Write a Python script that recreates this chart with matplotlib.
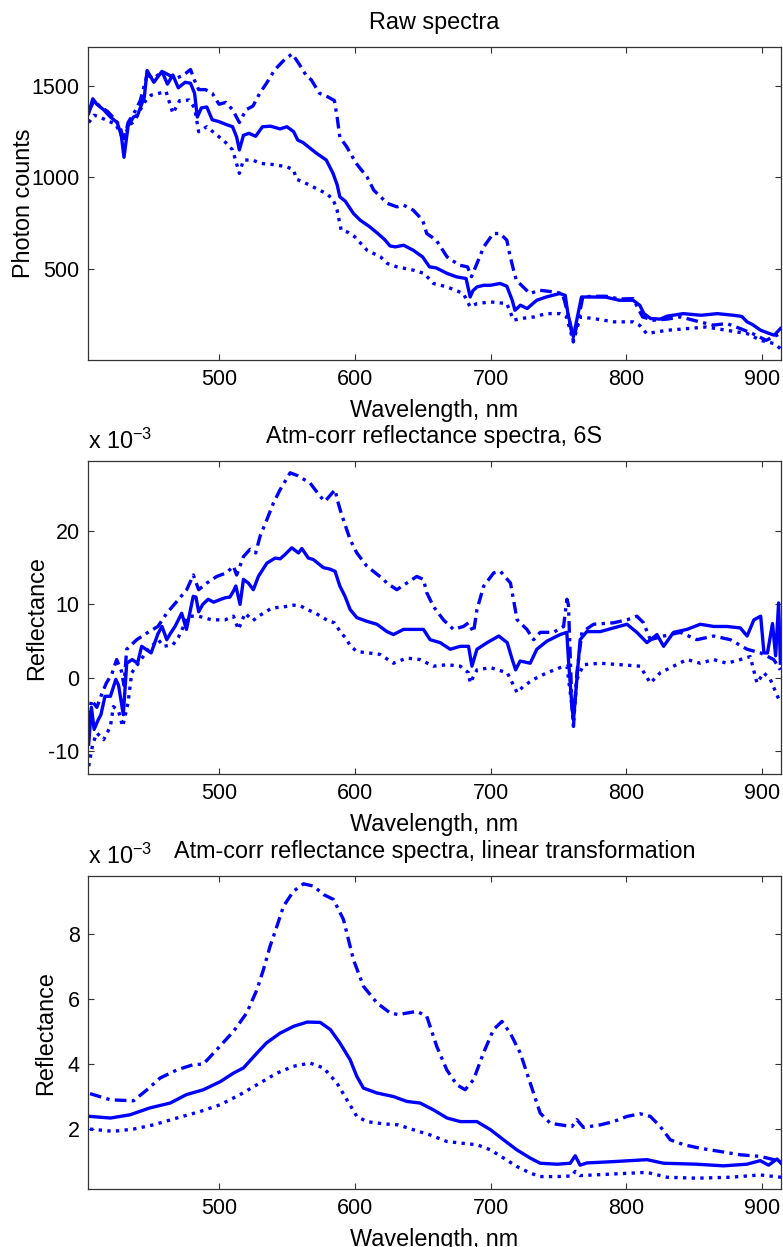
import matplotlib
matplotlib.use("Agg")
import matplotlib.pyplot as plt

plt.rcParams['font.family'] = ['Liberation Sans', 'DejaVu Sans']
plt.rcParams['mathtext.fontset'] = 'custom'
plt.rcParams['mathtext.rm'] = 'Liberation Sans'
plt.rcParams['mathtext.default'] = 'regular'
plt.rcParams['axes.unicode_minus'] = False

# ---- Raw spectra (photon counts) ----
raw_solid_wl = [404, 407, 410, 415, 420, 425, 428, 430, 433, 437, 440, 445, 447, 452, 458, 462, 466, 470, 475, 479,
                482, 484, 487, 491, 495, 500, 505, 510, 513, 515, 518, 522, 527, 532, 538, 545, 550, 555, 558, 562,
                567, 572, 579, 584, 587, 589, 593, 599, 604, 611, 617, 622, 626, 630, 636, 643, 650, 655, 660, 668,
                675, 682, 685, 687, 690, 695, 700, 707, 712, 716, 718, 722, 727, 734, 741, 751, 755, 757, 761, 764,
                767, 773, 785, 795, 805, 810, 813, 818, 825, 830, 842, 855, 867, 879, 885, 889, 893, 899, 904, 909, 913.5]
raw_solid = [1350, 1430, 1400, 1370, 1330, 1300, 1230, 1110, 1280, 1330, 1340, 1440, 1585, 1520, 1580, 1510, 1560, 1490, 1520, 1515,
             1460, 1330, 1380, 1385, 1315, 1305, 1290, 1277, 1220, 1150, 1230, 1241, 1225, 1277, 1280, 1265, 1277, 1250, 1204, 1190,
             1160, 1131, 1095, 1022, 960, 894, 870, 803, 766, 730, 693, 660, 625, 620, 629, 602, 565, 511, 505, 475,
             456, 447, 346, 380, 401, 410, 410, 420, 405, 328, 273, 301, 283, 328, 346, 365, 355, 255, 128, 237,
             346, 346, 345, 328, 328, 300, 255, 228, 225, 241, 255, 246, 255, 246, 240, 210, 195, 164, 150, 137, 173]

raw_dashdot_wl = [404, 408, 412, 418, 423, 427, 430, 433, 438, 442, 447, 452, 458, 463, 468, 474, 479, 482, 485, 490,
                  495, 500, 505, 510, 515, 520, 525, 530, 535, 541, 549, 554, 559, 564, 568, 574, 580, 585, 587, 589,
                  594, 601, 609, 614, 619, 624, 631, 636, 643, 650, 653, 660, 668, 677, 683, 686, 690, 695, 702, 707,
                  712, 714, 717, 719, 724, 729, 736, 746, 753, 757, 761, 765, 768, 775, 785, 795, 805, 812, 820, 830,
                  840, 854, 864, 874, 884, 893, 903, 913.5]
raw_dashdot = [1360, 1420, 1390, 1360, 1320, 1280, 1200, 1300, 1360, 1420, 1560, 1540, 1580, 1560, 1540, 1560, 1590, 1530, 1480, 1480,
               1460, 1400, 1410, 1370, 1300, 1370, 1390, 1460, 1515, 1588, 1650, 1675, 1620, 1560, 1533, 1460, 1441, 1420, 1330, 1220,
               1168, 1077, 1003, 930, 894, 858, 839, 848, 821, 766, 693, 657, 565, 520, 511, 457, 529, 620, 693, 693,
               657, 584, 492, 438, 401, 365, 383, 374, 365, 255, 109, 237, 346, 350, 350, 335, 337, 237, 219, 225,
               237, 210, 192, 201, 173, 146, 109, 146]

raw_dotted_wl = [404, 408, 412, 418, 424, 428, 430, 433, 438, 442, 446, 450, 456, 461, 466, 471, 478, 482, 485, 491,
                 500, 505, 510, 515, 518, 525, 530, 540, 550, 555, 557, 562, 569, 579, 584, 587, 590, 595, 600, 609,
                 619, 624, 631, 643, 651, 658, 668, 680, 685, 690, 700, 712, 717, 722, 732, 741, 751, 756, 761, 766,
                 776, 791, 805, 810, 815, 830, 845, 859, 874, 889, 899, 909, 913.5]
raw_dotted = [1300, 1340, 1330, 1310, 1290, 1230, 1200, 1280, 1310, 1370, 1420, 1450, 1460, 1470, 1350, 1420, 1423, 1380, 1250, 1277,
              1222, 1190, 1150, 1022, 1095, 1095, 1077, 1070, 1058, 1040, 990, 975, 949, 912, 880, 820, 711, 700, 675, 602,
              565, 529, 511, 493, 475, 420, 401, 365, 292, 310, 319, 310, 219, 228, 237, 255, 255, 237, 100, 237,
              228, 210, 210, 190, 146, 164, 173, 182, 164, 146, 109, 91, 64]

# ---- Atm-corr reflectance, 6S (x 1e-3) ----
sixs_solid_wl = [404, 406, 408, 411, 413, 416, 420, 424, 426, 429.5, 432, 436, 440, 443, 450, 455, 458, 461.5, 464, 467.6,
                 472.5, 476, 481, 483, 485, 488, 492, 496, 500, 504.5, 508, 510.6, 512.4, 515.5, 518, 521.6, 525.3, 529, 535.2, 541.3,
                 545, 548.7, 553.6, 558.5, 561, 565.8, 569.5, 576.9, 581.7, 585.5, 589, 592.8, 596.6, 601.5, 608.9, 616.3, 623.7, 628.5,
                 635.9, 643, 650.6, 655.5, 662.9, 670.3, 677.7, 683.8, 686.3, 690, 697.5, 706.1, 712.3, 716, 718.5, 721.8, 729.2, 734.1,
                 741.5, 751.3, 756.2, 757.4, 760, 761.1, 763.6, 766, 770.9, 780.8, 790.6, 800.5, 807.8, 815.2, 822.6, 827.5, 834.8,
                 844.7, 854.5, 864.4, 874.2, 884, 889, 894, 899, 901.4, 904, 907.7, 910, 912.2, 913.5]
sixs_solid = [-9, -4, -7, -5.7, -5, -2.5, -2.5, -0.2, -1, -5, 2, 2.5, 2, 4.3, 3.4, 6, 7, 5.2, 6, 7,
              8.8, 6.6, 11.1, 11, 9, 10, 10.7, 10.3, 10.6, 10.9, 11, 11.8, 12.5, 10, 13.4, 12.9, 12, 13.8, 15.6, 16.3,
              16.2, 16.8, 17.7, 17, 17.6, 16.3, 16.1, 15, 14.8, 14.5, 12.5, 11.1, 9.3, 8.2, 7.7, 7.3, 6.3, 5.9,
              6.6, 6.6, 6.6, 5.2, 4.8, 3.9, 4.3, 4.3, 1.6, 3.9, 4.8, 5.7, 4.8, 2.5, 1.1, 2.3, 2.0, 3.9,
              5.0, 5.9, 6.2, 2.5, -3.9, -5.7, -0.2, 5.2, 6.3, 6.3, 6.8, 7.3, 6.2, 4.8, 5.9, 4.3, 6.2,
              6.6, 7.3, 7.0, 7.0, 6.8, 5.7, 7.9, 8.4, 3.4, 3.4, 7.4, 3.0, 10.2, 2.0]

sixs_dashdot_wl = [404, 406, 410, 414, 417, 421, 424.6, 428, 430, 432, 439.4, 446.8, 455, 461.5, 468.9, 476.2, 481.1, 485, 491, 498.3,
                   505.6, 510.6, 513, 518, 522.9, 527, 530.3, 535.2, 540.1, 545, 552.4, 558, 567.1, 574.5, 578, 585.5, 587, 590, 596.6, 601.5,
                   608.9, 621.2, 623.6, 631, 638.3, 645.7, 650.6, 653, 658, 665.3, 672.7, 680, 683.8, 687.5, 690, 695, 702.4, 707.3, 714.7, 719.6,
                   726.8, 731.7, 736.6, 746.4, 753.8, 756.3, 757.4, 760, 761.1, 763.6, 767.3, 775.9, 790.6, 800.5, 807.8, 812.7, 817.7, 827.5,
                   839.8, 852, 864.4, 876.7, 889, 899, 908.6, 913.5]
sixs_dashdot = [-6, -3, -4, -2, -0.7, 0.5, 2.5, 1, -1, 3.9, 5.2, 6.1, 7, 8.8, 10.4, 12, 14, 12, 12.9, 13.8,
                14.3, 15.2, 14, 16.5, 17.5, 17, 19.3, 21.5, 23.8, 25.6, 27.9, 27.5, 26.5, 24.7, 24, 25.6, 24.3, 22.4, 18.8, 17,
                15.2, 13.4, 12.9, 12, 12.9, 13.8, 13.4, 11.6, 9.7, 7.9, 6.6, 7, 7.5, 6.2, 9.3, 12.5, 14.3, 14.5, 12.9, 7.9,
                6.6, 5.2, 6.2, 6.2, 7, 10.7, 9.9, -3.9, -6.6, 0.7, 6.2, 7.3, 7.5, 7.9, 8.4, 7.5, 5.2, 5.7,
                6.2, 5.2, 5.7, 5.2, 3.9, 3.4, 2.5, 1.1]

sixs_dotted_wl = [404, 407, 410, 415, 420, 422.2, 426, 429, 433, 435.7, 440.6, 448, 455.3, 459, 466, 470, 477.4, 484.8, 494.7, 504.5,
                  510.6, 514.3, 519.2, 525, 530, 538.9, 548.7, 555, 560, 565, 570, 575, 580, 585, 590, 593, 597, 601.5, 610, 618.7,
                  628.5, 638.3, 648, 658, 668, 677.7, 683.8, 685, 690, 700, 712.3, 717.2, 719.6, 724.4, 731.7, 741.5, 751.3, 756.3, 760, 761.1,
                  763.6, 768.5, 780.8, 795.5, 810.2, 817.7, 825, 834.8, 844.7, 854.5, 864.4, 874.2, 884, 891.3, 896.3, 901.2, 906.1, 913.5]
sixs_dotted = [-12, -9, -7.5, -8.4, -6.6, -3.9, -4.5, -6.6, -3.4, 0.7, 2, 3.9, 5.2, 4.3, 4.5, 5.5, 8.4, 8.4, 7.9, 7.9,
               8.4, 6.6, 8.8, 7.8, 8.5, 9.5, 9.7, 9.9, 9.8, 9.3, 8.9, 8.4, 7.8, 7.5, 6.1, 5.5, 4.3, 3.6, 3.4, 3.2,
               2.0, 2.7, 2.5, 1.6, 1.8, 1.6, 0.7, -0.7, 1.1, 1.4, 0.7, -1.1, -2, -1.1, -0.2, 0.7, 1.4, 1.6, -3.9, -5.7,
               -0.2, 1.8, 2, 1.8, 1.6, -0.7, 0.7, 1.6, 2.5, 2, 2.5, 2, 2.5, 2.9, -0.7, 0.7, -0.2, -3.4]

# ---- Atm-corr reflectance, linear transformation (x 1e-3) ----
lin_solid_wl = [405, 420, 434.5, 449, 464, 476, 488.5, 501, 510.6, 518, 528, 535, 545, 555, 565, 574.5, 582, 589, 596.6, 601.5,
                606.4, 616.3, 628.5, 638.4, 648.2, 658, 668, 677.7, 690, 700, 709.6, 719.4, 729.2, 736.6, 749, 758.7, 762.4, 766, 771,
                790.6, 815.2, 827.5, 852, 871.6, 888.8, 898.7, 904.8, 911, 914]
lin_solid = [2.39, 2.34, 2.44, 2.65, 2.80, 3.06, 3.21, 3.46, 3.72, 3.88, 4.34, 4.65, 4.95, 5.16, 5.29, 5.28, 5.06, 4.65, 4.13, 3.62,
             3.26, 3.11, 3.0, 2.85, 2.8, 2.59, 2.34, 2.23, 2.23, 1.98, 1.67, 1.36, 1.11, 0.95, 0.92, 0.95, 1.18, 0.89, 0.96,
             1.0, 1.06, 0.95, 0.92, 0.87, 0.92, 1.03, 0.89, 1.08, 0.95]

lin_dashdot_wl = [405, 420, 437, 447, 456.6, 469, 481, 488.5, 498.3, 510.6, 520.4, 528, 532.7, 537.6, 542.6, 547.5, 554.8, 562.2, 569.6, 577,
                  584.3, 591.7, 599, 606.4, 616.3, 626, 632, 645.7, 653, 660.4, 667.8, 675.2, 681.3, 687.5, 694.8, 702.2, 708.4, 714.5, 721.9, 729.2,
                  736.6, 744, 756.3, 760, 763.6, 768.5, 780.8, 790.6, 800.5, 810.3, 817.7, 825, 832.4, 842.3, 854.5, 869.3, 884, 898.8, 908.6, 914]
lin_dashdot = [3.09, 2.9, 2.87, 3.21, 3.57, 3.82, 3.98, 4.0, 4.44, 5.0, 5.57, 6.29, 6.9, 7.62, 8.23, 8.85, 9.31, 9.54, 9.47, 9.21,
               9.06, 8.44, 7.21, 6.39, 5.88, 5.57, 5.52, 5.62, 5.47, 4.54, 3.82, 3.36, 3.21, 3.52, 4.34, 5.06, 5.31, 4.95, 4.34, 3.42,
               2.49, 2.18, 2.10, 2.08, 2.29, 2.05, 2.13, 2.23, 2.39, 2.47, 2.39, 2.08, 1.67, 1.52, 1.41, 1.31, 1.21, 1.16, 1.06, 1.0]

lin_dotted_wl = [405, 422, 437, 451.7, 469, 486, 501, 515.5, 530.3, 542.6, 554.8, 567, 577, 586.8, 594.2, 601.5, 608.9, 621.2, 632, 643.2,
                 655.5, 667.8, 680, 690, 700, 709.6, 719.4, 729.2, 736.6, 749, 760, 762.4, 766, 790.6, 815.2, 830, 852, 876.7, 898.8, 914]
lin_dotted = [2.0, 1.93, 2.0, 2.13, 2.34, 2.54, 2.75, 3.06, 3.42, 3.72, 3.93, 4.03, 3.88, 3.42, 2.9, 2.39, 2.23, 2.16, 2.13, 1.98,
              1.82, 1.62, 1.56, 1.52, 1.36, 1.11, 0.85, 0.65, 0.54, 0.54, 0.56, 0.70, 0.57, 0.62, 0.67, 0.52, 0.49, 0.52, 0.59, 0.52]

x_ticks = [500, 600, 700, 800, 900]

dotted = (0, (1.0, 1.6))
dashdot = (0, (3.5, 1.6, 1.0, 1.6))
lw = 2.4
blue = (0, 0, 1)
fs = 16.8

fig = plt.figure(figsize=(7.83, 12.47), dpi=100)
ax1 = fig.add_axes([0.1124, 0.7111, 0.8851, 0.2512])
ax2 = fig.add_axes([0.1124, 0.3791, 0.8851, 0.2512])
ax3 = fig.add_axes([0.1124, 0.0463, 0.8851, 0.2512])

ax1.plot(raw_dotted_wl, raw_dotted, color=blue, lw=lw, linestyle=dotted)
ax1.plot(raw_dashdot_wl, raw_dashdot, color=blue, lw=lw, linestyle=dashdot)
ax1.plot(raw_solid_wl, raw_solid, color=blue, lw=lw)
ax1.set_ylim(0, 1713)
ax1.set_yticks([500, 1000, 1500])
ax1.set_title('Raw spectra', fontsize=fs, pad=13)
ax1.set_ylabel('Photon counts', fontsize=fs)
ax1.yaxis.set_label_coords(-0.077, 0.5)

ax2.plot(sixs_dotted_wl, sixs_dotted, color=blue, lw=lw, linestyle=dotted)
ax2.plot(sixs_dashdot_wl, sixs_dashdot, color=blue, lw=lw, linestyle=dashdot)
ax2.plot(sixs_solid_wl, sixs_solid, color=blue, lw=lw)
ax2.set_ylim(-13.1, 29.5)
ax2.set_yticks([-10, 0, 10, 20])
ax2.set_title('Atm-corr reflectance spectra, 6S', fontsize=fs, pad=13)
ax2.set_ylabel('Reflectance', fontsize=fs)
ax2.yaxis.set_label_coords(-0.058, 0.5)

ax3.plot(lin_dotted_wl, lin_dotted, color=blue, lw=lw, linestyle=dotted)
ax3.plot(lin_dashdot_wl, lin_dashdot, color=blue, lw=lw, linestyle=dashdot)
ax3.plot(lin_solid_wl, lin_solid, color=blue, lw=lw)
ax3.set_ylim(0.15, 9.78)
ax3.set_yticks([2, 4, 6, 8])
ax3.set_title('Atm-corr reflectance spectra, linear transformation', fontsize=fs, pad=13)
ax3.set_ylabel('Reflectance', fontsize=fs)
ax3.yaxis.set_label_coords(-0.044, 0.5)

for ax in (ax2, ax3):
    ax.annotate('x 10$^{-3}$', xy=(0, 1), xycoords='axes fraction', xytext=(0, 9),
                textcoords='offset points', ha='left', va='baseline', fontsize=fs)

for ax in (ax1, ax2, ax3):
    ax.set_xlim(403.5, 914)
    ax.set_xticks(x_ticks)
    ax.set_xlabel('Wavelength, nm', fontsize=fs, labelpad=7)
    ax.tick_params(direction='in', top=True, right=True, length=4.5, width=0.8,
                   labelsize=15.5, pad=6, color='#333333')
    for s in ax.spines.values():
        s.set_linewidth(0.9)
        s.set_color('#333333')

fig.savefig('out.png', dpi=100)
